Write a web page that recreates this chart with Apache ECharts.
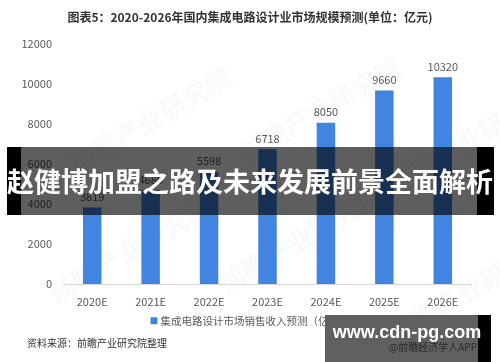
<!DOCTYPE html>
<html><head><meta charset="utf-8">
<script src="https://cdn.jsdelivr.net/npm/echarts@6/dist/echarts.min.js"></script>
<style>html,body{margin:0;padding:0;background:#fff}#c{width:500px;height:362px}</style>
</head><body><div id="c"></div>
<script>
const categories = ['2020E','2021E','2022E','2023E','2024E','2025E','2026E'];
const salesForecast = [3819, 4686, 5598, 6718, 8050, 9660, 10320];
const yTicks = [0, 2000, 4000, 6000, 8000, 10000, 12000];
const titleText = '图表5：2020-2026年国内集成电路设计业市场规模预测(单位：亿元)';
const seriesName = '集成电路设计市场销售收入预测（亿元）';
const sourceText = '资料来源：前瞻产业研究院整理';
const bannerText = '赵健博加盟之路及未来发展前景全面解析';
const siteText = 'www.cdn-pg.com';
const appText = '@前瞻经济学人APP';

const font = '"Noto Sans CJK SC","Microsoft YaHei",sans-serif';
const chart = echarts.init(document.getElementById('c'), null, {renderer:'canvas'});
const wm = [];
[[150,120],[320,110],[130,250],[300,240],[470,140],[470,290]].forEach(p=>{
  wm.push({type:'text', x:p[0], y:p[1], rotation:Math.PI/6, z:0,
    style:{text:'前瞻产业研究院', font:'bold 26px '+font, fill:'rgba(200,205,215,0.12)', align:'center', verticalAlign:'middle'}});
});
chart.setOption({
  animation:false,
  title:{text:titleText, left:'center', top:6,
    textStyle:{fontSize:12, fontWeight:'bold', color:'#333', fontFamily:font}},
  grid:{left:63, right:28, top:43.5, bottom:78, containLabel:false},
  legend:{bottom:31, left:'center', itemWidth:7, itemHeight:7, itemGap:4, icon:'rect',
    textStyle:{fontSize:10.5, color:'#595959', fontFamily:font, padding:[0,0,0,-2]}},
  xAxis:{type:'category', data:categories,
    axisLine:{lineStyle:{color:'#d9d9d9'}}, axisTick:{show:false},
    axisLabel:{color:'#595959', fontSize:11, margin:12, fontFamily:font}},
  yAxis:{type:'value', min:yTicks[0], max:yTicks[yTicks.length-1], interval:2000,
    splitLine:{show:false}, axisLine:{show:false}, axisTick:{show:false},
    axisLabel:{color:'#595959', fontSize:11, margin:11, fontFamily:font, formatter:v=>String(v)}},
  series:[{name:seriesName, type:'bar', data:salesForecast, barWidth:18.5,
    itemStyle:{color:'#4185e0'},
    label:{show:true, position:'top', distance:5, color:'#595959', fontSize:11, fontFamily:font}}],
  graphic:wm.concat([
    {type:'text', left:27, top:338, style:{text:sourceText, font:'10px '+font, fill:'#333'}},
    {type:'rect', shape:{x:21, y:147, width:456, height:68}, style:{fill:'rgba(0,0,0,0.63)'}, z:100},
    {type:'rect', shape:{x:7, y:147, width:14, height:68}, style:{fill:'#000'}, z:100},
    {type:'rect', shape:{x:477, y:147, width:17, height:68}, style:{fill:'#000'}, z:100},
    {type:'text', x:250, y:182, z:101, style:{text:bannerText, font:'bold 27px '+font, fill:'#fff', align:'center', verticalAlign:'middle'}},
    {type:'rect', shape:{x:325, y:315, width:153, height:47}, style:{fill:'#606060'}, z:100},
    {type:'rect', shape:{x:478, y:315, width:13, height:47}, style:{fill:'#000'}, z:100},
    {type:'text', x:477, y:347, z:101, style:{text:appText, font:'10px '+font, fill:'#2a2a2a', align:'right', verticalAlign:'middle'}},
    {type:'text', x:407, y:333, z:102, style:{text:siteText, font:'bold 18px "Liberation Sans",Arial,sans-serif', fill:'#fff', align:'center', verticalAlign:'middle'}}
  ])
});
</script></body></html>
